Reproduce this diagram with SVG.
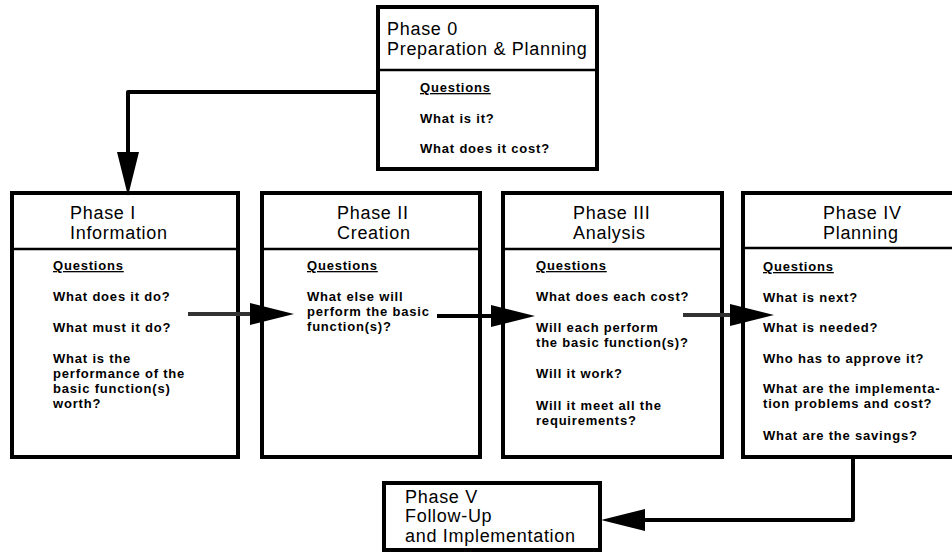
<svg xmlns="http://www.w3.org/2000/svg" width="952" height="552" viewBox="0 0 952 552">
<style>
.box{fill:#fff;stroke:#000;stroke-width:4}
.div{stroke:#000;stroke-width:2.5}
.title{font-family:"Liberation Sans",Arial,sans-serif;font-size:18px;letter-spacing:0.7px;fill:#000}
.q{font-family:"Liberation Sans",Arial,sans-serif;font-size:13px;font-weight:bold;letter-spacing:0.8px;fill:#000}
.qh{text-decoration:underline}
.conn{fill:none;stroke:#000;stroke-width:4;stroke-linejoin:round}
.thin{stroke:#333}
</style>
<defs>
<marker id="ah" viewBox="0 0 44 22" refX="0" refY="11" markerWidth="44" markerHeight="22" markerUnits="userSpaceOnUse" orient="auto">
<path d="M0,0 L44,11 L0,22 Z" fill="#000"/>
</marker>
</defs>
<rect width="952" height="552" fill="#fff"/>

<g id="phase0">
<rect class="box" x="378" y="7" width="219" height="162"/>
<line class="div" x1="378" y1="70" x2="597" y2="70"/>
<text class="title" x="387" y="35">Phase 0</text>
<text class="title" x="387" y="55">Preparation &amp; Planning</text>
<text class="q qh" x="420" y="92">Questions</text>
<text class="q" x="420" y="123">What is it?</text>
<text class="q" x="420" y="153">What does it cost?</text>
</g>

<g id="phase1">
<rect class="box" x="12" y="193" width="226" height="264"/>
<line class="div" x1="12" y1="249" x2="238" y2="249"/>
<text class="title" x="70" y="219">Phase I</text>
<text class="title" x="70" y="239">Information</text>
<text class="q qh" x="53" y="270">Questions</text>
<text class="q" x="53" y="301">What does it do?</text>
<text class="q" x="53" y="332">What must it do?</text>
<text class="q" x="53" y="363">What is the</text>
<text class="q" x="53" y="378">performance of the</text>
<text class="q" x="53" y="393">basic function(s)</text>
<text class="q" x="53" y="408">worth?</text>
</g>

<g id="phase2">
<rect class="box" x="262" y="193" width="218" height="264"/>
<line class="div" x1="262" y1="249" x2="480" y2="249"/>
<text class="title" x="337" y="219">Phase II</text>
<text class="title" x="337" y="239">Creation</text>
<text class="q qh" x="307" y="270">Questions</text>
<text class="q" x="307" y="301">What else will</text>
<text class="q" x="307" y="316">perform the basic</text>
<text class="q" x="307" y="331">function(s)?</text>
</g>

<g id="phase3">
<rect class="box" x="503" y="193" width="219" height="264"/>
<line class="div" x1="503" y1="249" x2="722" y2="249"/>
<text class="title" x="573" y="219">Phase III</text>
<text class="title" x="573" y="239">Analysis</text>
<text class="q qh" x="536" y="270">Questions</text>
<text class="q" x="536" y="301">What does each cost?</text>
<text class="q" x="536" y="332">Will each perform</text>
<text class="q" x="536" y="347">the basic function(s)?</text>
<text class="q" x="536" y="378">Will it work?</text>
<text class="q" x="536" y="410">Will it meet all the</text>
<text class="q" x="536" y="425">requirements?</text>
</g>

<g id="phase4">
<rect class="box" x="743" y="193" width="240" height="264"/>
<line class="div" x1="743" y1="248" x2="952" y2="248"/>
<text class="title" x="823" y="219">Phase IV</text>
<text class="title" x="823" y="239">Planning</text>
<text class="q qh" x="763" y="271">Questions</text>
<text class="q" x="763" y="302">What is next?</text>
<text class="q" x="763" y="332">What is needed?</text>
<text class="q" x="763" y="363">Who has to approve it?</text>
<text class="q" x="763" y="393">What are the implementa-</text>
<text class="q" x="763" y="408">tion problems and cost?</text>
<text class="q" x="763" y="440">What are the savings?</text>
</g>

<g id="phase5">
<rect class="box" x="384" y="483" width="216" height="67"/>
<text class="title" x="405" y="503">Phase V</text>
<text class="title" x="405" y="522">Follow-Up</text>
<text class="title" x="405" y="542">and Implementation</text>
</g>

<g id="connectors">
<path class="conn" d="M378,92 L128,92 L128,152" marker-end="url(#ah)"/>
<path class="conn thin" d="M188,314 L250,314" marker-end="url(#ah)"/>
<path class="conn" d="M437,316 L491,316" marker-end="url(#ah)"/>
<path class="conn thin" d="M683,315 L730,315" marker-end="url(#ah)"/>
<path class="conn" d="M853,457 L853,520 L645,520" marker-end="url(#ah)"/>
</g>
</svg>
